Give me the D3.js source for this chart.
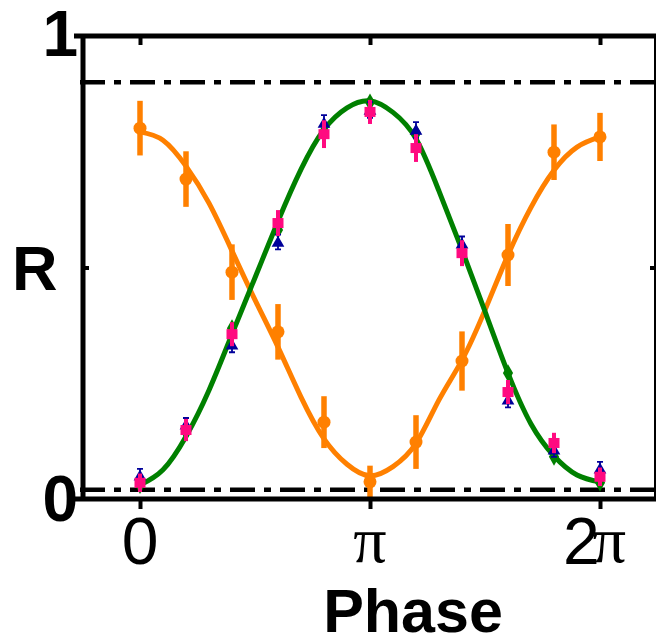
<!DOCTYPE html>
<html>
<head>
<meta charset="utf-8">
<script src="https://cdn.jsdelivr.net/npm/d3@7"></script>
<style>
  body { margin: 0; background: #fff; }
  svg { display: block; }
</style>
</head>
<body>
<svg width="656" height="637"></svg>
<script>
// phase points are k * pi/5, fit curves sampled at k * pi/10
const phaseSteps = [0, 1, 2, 3, 4, 5, 6, 7, 8, 9, 10];
const orangeR   = [0.801, 0.691, 0.490, 0.361, 0.166, 0.037, 0.123, 0.298, 0.527, 0.749, 0.782];
const orangeErr = [0.059, 0.060, 0.060, 0.060, 0.056, 0.035, 0.058, 0.064, 0.067, 0.060, 0.052];
const greenR    = [0.030, 0.145, 0.369, 0.581, 0.793, 0.857, 0.790, 0.538, 0.272, 0.091, 0.035];
const blueR     = [0.050, 0.160, 0.333, 0.555, 0.812, 0.840, 0.797, 0.551, 0.214, 0.106, 0.065];
const blueErr   = [0.015, 0.015, 0.016, 0.016, 0.017, 0.017, 0.017, 0.016, 0.016, 0.015, 0.015];
const pinkR     = [0.035, 0.149, 0.356, 0.596, 0.788, 0.836, 0.758, 0.531, 0.231, 0.121, 0.048];
const pinkErr   = [0.020, 0.024, 0.026, 0.028, 0.030, 0.026, 0.030, 0.028, 0.026, 0.022, 0.020];

const fitSteps = d3.range(21);
const orangeFit = [0.793, 0.775, 0.719, 0.639, 0.536, 0.430, 0.328, 0.220, 0.130, 0.075, 0.050,
                   0.070, 0.120, 0.214, 0.300, 0.408, 0.527, 0.630, 0.710, 0.760, 0.782];
const greenFit  = [0.030, 0.063, 0.135, 0.235, 0.356, 0.478, 0.600, 0.712, 0.798, 0.845, 0.860,
                   0.835, 0.778, 0.665, 0.538, 0.405, 0.272, 0.162, 0.093, 0.052, 0.037];

const refLevels = [0.02, 0.9];
const xTicks = [0, Math.PI, 2 * Math.PI];
const xTickLabels = ["0", "\u03c0", "2\u03c0"];
const yTicks = [0, 0.5, 1];
const yTickLabels = ["0", "", "1"];

const frameL = 83, frameR = 655, frameT = 36, frameB = 499;

const x = d3.scaleLinear().domain([0, 2 * Math.PI]).range([140, 600]);
const y = d3.scaleLinear().domain([0, 1]).range([frameB, frameT]);

const svg = d3.select("svg");
const sans = "'Liberation Sans', Arial, sans-serif";
const serif = "'Liberation Serif', 'Times New Roman', serif";

// reference dash-dot lines
svg.selectAll(".ref").data(refLevels).enter().append("line")
  .attr("x1", 80).attr("x2", frameR)
  .attr("y1", d => y(d)).attr("y2", d => y(d))
  .attr("stroke", "#000").attr("stroke-width", 4.5)
  .attr("stroke-dasharray", "25,9,7,9");

// fit curves
const line = d3.line().x(d => x(d[0] * Math.PI / 10)).y(d => y(d[1])).curve(d3.curveNatural);
svg.append("path").datum(fitSteps.map(k => [k, orangeFit[k]]))
  .attr("d", line).attr("fill", "none").attr("stroke", "#ff8000").attr("stroke-width", 5);
svg.append("path").datum(fitSteps.map(k => [k, greenFit[k]]))
  .attr("d", line).attr("fill", "none").attr("stroke", "#008000").attr("stroke-width", 5);

const px = k => x(k * Math.PI / 5);

// orange circles with error bars
svg.selectAll(".oerr").data(phaseSteps).enter().append("line")
  .attr("x1", px).attr("x2", px)
  .attr("y1", k => y(orangeR[k] - orangeErr[k])).attr("y2", k => y(orangeR[k] + orangeErr[k]))
  .attr("stroke", "#ff8000").attr("stroke-width", 5.5);
svg.selectAll(".opt").data(phaseSteps).enter().append("circle")
  .attr("cx", px).attr("cy", k => y(orangeR[k])).attr("r", 6.5)
  .attr("fill", "#ff8000");

// green diamonds
svg.selectAll(".gpt").data(phaseSteps).enter().append("path")
  .attr("d", d3.symbol(d3.symbolDiamond, 90))
  .attr("transform", k => `translate(${px(k)},${y(greenR[k])})`)
  .attr("fill", "#008000");

// blue triangles with capped error bars
const blue = "#00009a";
svg.selectAll(".berr").data(phaseSteps).enter().append("path")
  .attr("d", k => {
    const cx = px(k), y0 = y(blueR[k] - blueErr[k]), y1 = y(blueR[k] + blueErr[k]);
    return `M${cx - 3},${y0}H${cx + 3}M${cx},${y0}V${y1}M${cx - 3},${y1}H${cx + 3}`;
  })
  .attr("stroke", blue).attr("stroke-width", 1.8).attr("fill", "none");
svg.selectAll(".bpt").data(phaseSteps).enter().append("path")
  .attr("d", d3.symbol(d3.symbolTriangle, 70))
  .attr("transform", k => `translate(${px(k)},${y(blueR[k]) + 1})`)
  .attr("fill", blue);

// pink squares with error bars
const pink = "#ff0a80";
svg.selectAll(".perr").data(phaseSteps).enter().append("line")
  .attr("x1", px).attr("x2", px)
  .attr("y1", k => y(pinkR[k] - pinkErr[k])).attr("y2", k => y(pinkR[k] + pinkErr[k]))
  .attr("stroke", pink).attr("stroke-width", 4);
svg.selectAll(".ppt").data(phaseSteps).enter().append("rect")
  .attr("x", k => px(k) - 5.5).attr("y", k => y(pinkR[k]) - 5)
  .attr("width", 11).attr("height", 10)
  .attr("fill", pink);

// frame
svg.append("line").attr("x1", 74).attr("x2", 656).attr("y1", frameT).attr("y2", frameT)
  .attr("stroke", "#000").attr("stroke-width", 5);
svg.append("line").attr("x1", 74).attr("x2", 656).attr("y1", frameB).attr("y2", frameB)
  .attr("stroke", "#000").attr("stroke-width", 5);
svg.append("line").attr("x1", frameL).attr("x2", frameL).attr("y1", frameT).attr("y2", frameB)
  .attr("stroke", "#000").attr("stroke-width", 5);
svg.append("line").attr("x1", frameR).attr("x2", frameR).attr("y1", frameT).attr("y2", frameB)
  .attr("stroke", "#000").attr("stroke-width", 2);

// ticks via axes
const styleAxis = g => {
  g.select(".domain").remove();
  g.selectAll(".tick line").attr("stroke", "#000").attr("stroke-width", 4);
  g.selectAll(".tick text").remove();
};
svg.append("g").attr("transform", `translate(0,${frameB + 2})`)
  .call(d3.axisBottom(x).tickValues(xTicks).tickSize(8)).call(styleAxis);
svg.append("g").attr("transform", `translate(0,${frameT + 2})`)
  .call(d3.axisBottom(x).tickValues(xTicks).tickSize(7)).call(styleAxis);
svg.append("g").attr("transform", `translate(${frameL + 2},0)`)
  .call(d3.axisRight(y).tickValues([0.5]).tickSize(4)).call(styleAxis);
svg.append("g").attr("transform", `translate(${frameR - 1},0)`)
  .call(d3.axisLeft(y).tickValues([0.5]).tickSize(4)).call(styleAxis);

// x tick labels
xTicks.forEach((v, i) => {
  const lab = xTickLabels[i];
  const t = svg.append("text").attr("y", 564).attr("font-size", 66).attr("fill", "#000");
  if (lab === "0") {
    t.attr("x", x(v)).attr("text-anchor", "middle").attr("font-family", sans).text(lab);
  } else if (lab === "\u03c0") {
    t.attr("x", x(v)).attr("y", 562).attr("text-anchor", "middle").attr("font-family", serif).text(lab);
  } else {
    t.attr("x", x(v) - 37).attr("font-family", sans);
    t.append("tspan").text("2");
    t.append("tspan").attr("dx", -7).attr("y", 562).attr("font-family", serif).text("\u03c0");
  }
});

// y tick labels
yTicks.forEach((v, i) => {
  if (!yTickLabels[i]) return;
  svg.append("text").attr("x", 78).attr("y", v === 0 ? 521 : 56)
    .attr("text-anchor", "end").attr("font-family", sans).attr("font-weight", "bold")
    .attr("font-size", 64).text(yTickLabels[i]);
});

// axis titles
svg.append("text").attr("x", 12).attr("y", 290)
  .attr("font-family", sans).attr("font-weight", "bold").attr("font-size", 63).text("R");
svg.append("text").attr("x", 413).attr("y", 632).attr("text-anchor", "middle")
  .attr("font-family", sans).attr("font-weight", "bold").attr("font-size", 61).text("Phase");
</script>
</body>
</html>
